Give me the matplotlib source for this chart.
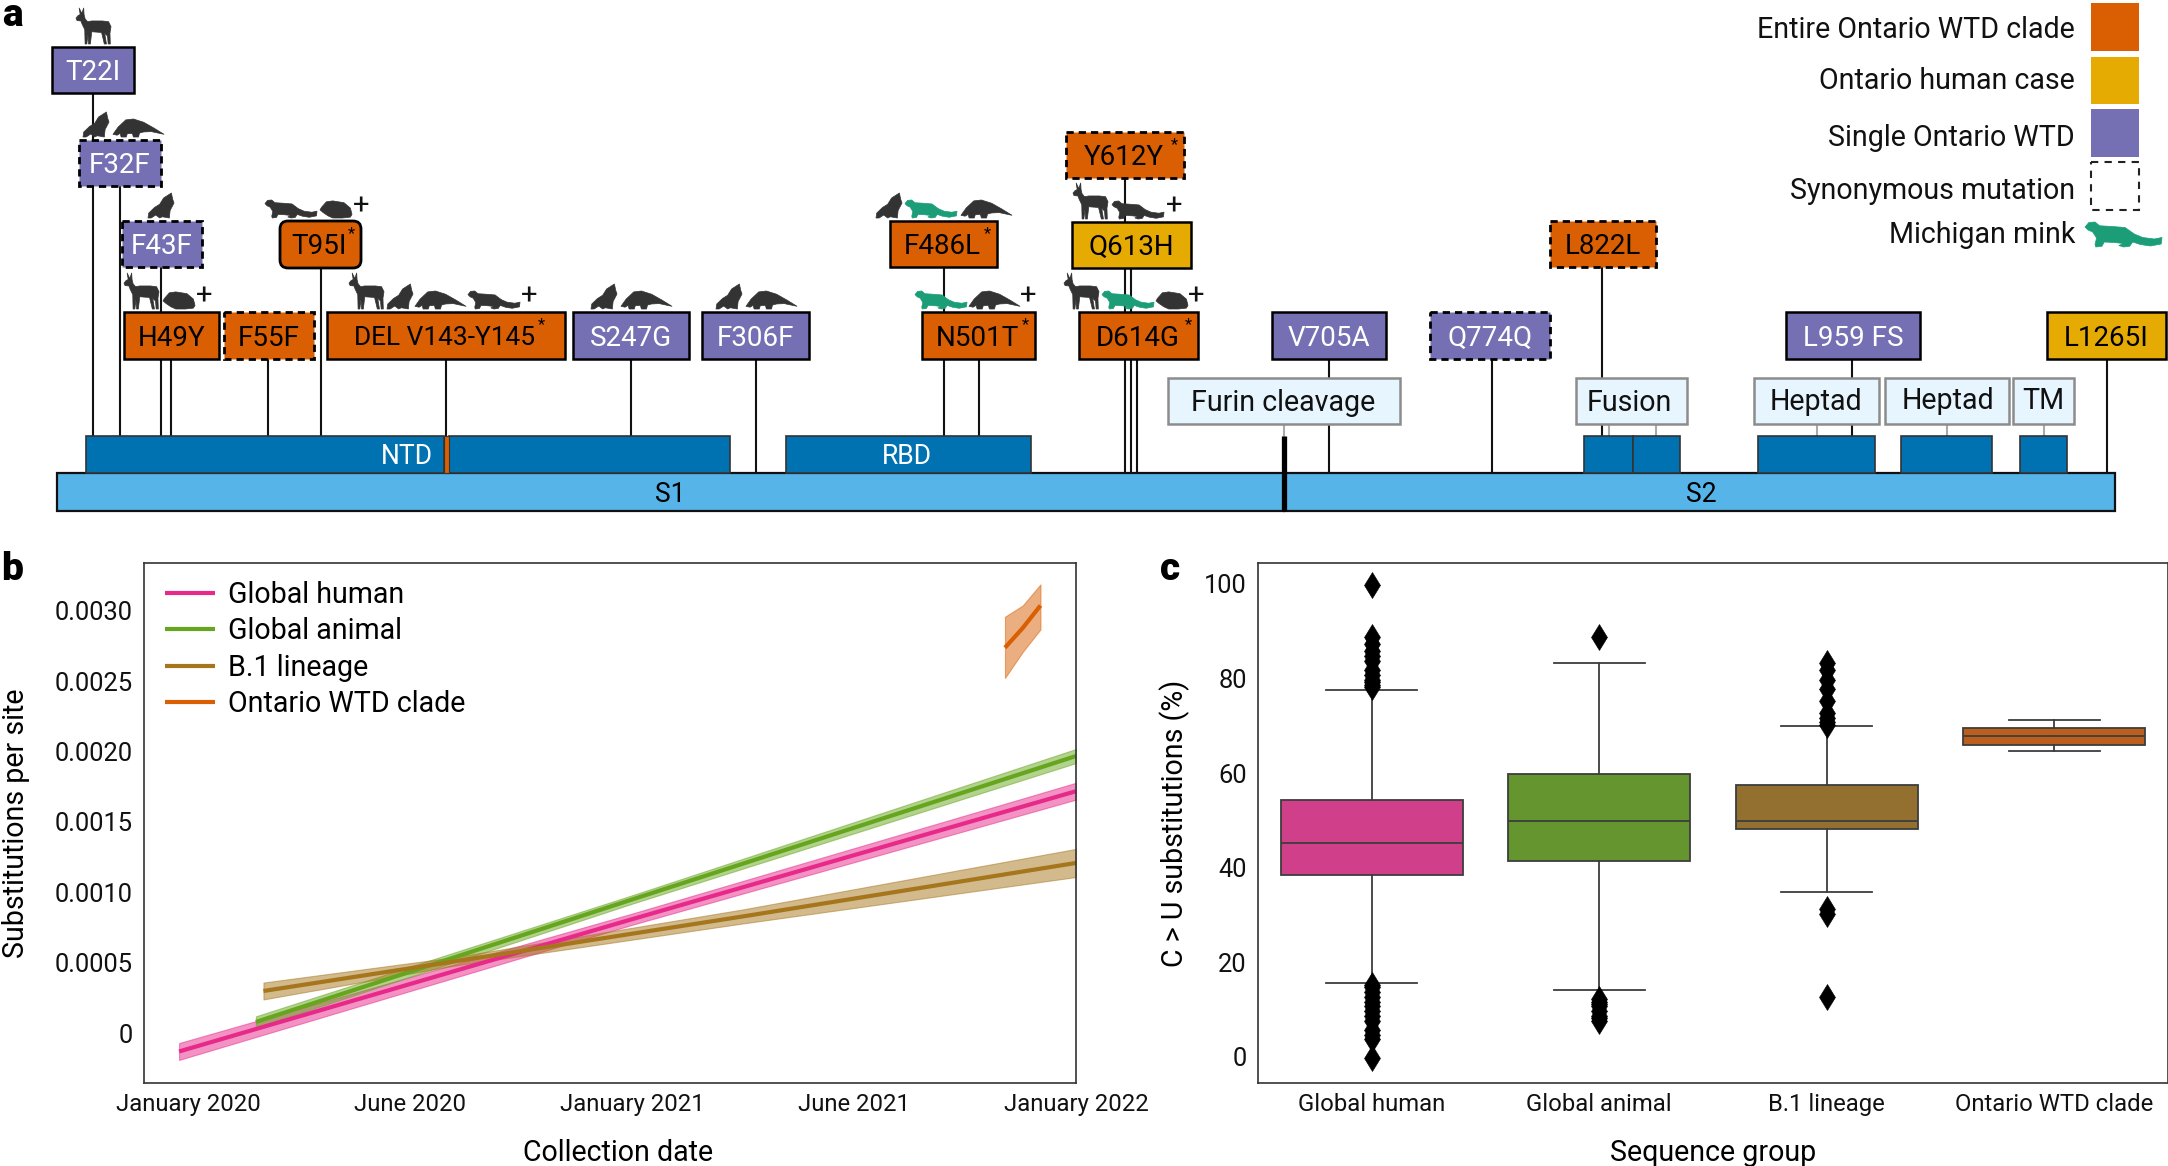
import matplotlib
matplotlib.use('Agg')
import matplotlib.pyplot as plt
from matplotlib.patches import Rectangle, FancyBboxPatch, Polygon
from matplotlib.transforms import ScaledTranslation

plt.rcParams['font.family'] = ['Roboto', 'DejaVu Sans']

W, H = 2168, 1166
ORANGE, YELLOW, PURPLE = '#D95F02', '#E6AB02', '#7570B3'
DARK_BLUE, SKY, PALE = '#0072B2', '#56B4E9', '#E6F5FE'
MINK_GREEN, SIL = '#1B9E77', '#333333'
FS_A, FS_T, FS_L = 20.6, 17.2, 20.6

# ---------- panel a: mutations ----------
MUTATIONS = ['T22I', 'F32F', 'F43F', 'T95I', 'H49Y', 'F55F', 'DEL V143-Y145', 'S247G', 'F306F',
             'F486L', 'N501T', 'Y612Y', 'Q613H', 'D614G', 'V705A', 'Q774Q', 'L822L', 'L959 FS', 'L1265I']
MUT_GROUP = ['single', 'single', 'single', 'clade', 'clade', 'clade', 'clade', 'single', 'single',
             'clade', 'clade', 'clade', 'human', 'clade', 'single', 'single', 'clade', 'single', 'human']
MUT_SYNONYMOUS = ['F32F', 'F43F', 'F55F', 'Y612Y', 'Q774Q', 'L822L']
MUT_STARRED = ['T95I', 'DEL V143-Y145', 'F486L', 'N501T', 'Y612Y', 'D614G']
MUT_ANIMALS = [
    ['deer'], ['cat', 'pangolin'], ['cat'], ['mink', 'hamster', '+'], ['deer', 'hamster', '+'], [],
    ['deer', 'cat', 'pangolin', 'mink', '+'], ['cat', 'pangolin'], ['cat', 'pangolin'],
    ['cat', 'gmink', 'pangolin'], ['gmink', 'pangolin', '+'], [], ['deer', 'mink', '+'],
    ['deer', 'gmink', 'hamster', '+'], [], [], [], [], []]
DOMAINS = ['NTD', 'RBD', 'Furin cleavage', 'Fusion', 'Heptad', 'Heptad', 'TM']
SUBUNITS = ['S1', 'S2']
LEGEND_A = ['Entire Ontario WTD clade', 'Ontario human case', 'Single Ontario WTD', 'Synonymous mutation', 'Michigan mink']

# layout of the schematic, in figure pixels
BOX = {'T22I': (52, 134, 47, 93), 'F32F': (79, 161, 140, 186), 'F43F': (122, 202, 221, 267),
       'T95I': (280, 361, 221, 268), 'H49Y': (124, 219, 312, 359), 'F55F': (224, 314, 312, 359),
       'DEL V143-Y145': (327, 565, 312, 359), 'S247G': (573, 689, 312, 359), 'F306F': (702, 809, 312, 359),
       'F486L': (890, 997, 221, 267), 'N501T': (922, 1035, 312, 359), 'Y612Y': (1066, 1184, 132, 178),
       'Q613H': (1072, 1191, 222, 268), 'D614G': (1079, 1198, 312, 359), 'V705A': (1272, 1386, 312, 359),
       'Q774Q': (1430, 1550, 312, 359), 'L822L': (1550, 1656, 221, 267), 'L959 FS': (1786, 1920, 312, 359),
       'L1265I': (2047, 2166, 312, 359)}
STEMS = [(93, 93, 436), (120, 186, 436), (161, 267, 436), (171, 359, 436), (268, 359, 436), (320.5, 268, 436),
         (446, 359, 436), (631, 359, 436), (756, 359, 473), (944, 267, 436), (978.5, 359, 436),
         (1125, 178, 473), (1131, 268, 473), (1137, 359, 473), (1329, 359, 473), (1492, 359, 473),
         (1601.5, 267, 436), (1852, 359, 436), (2107, 359, 473)]
SILH = {
 'deer': [(0,.72),(.06,.79),(.12,.82),(.09,1),(.15,.88),(.17,.86),(.22,1),(.23,.82),(.26,.7),(.33,.62),(.45,.64),(.75,.64),(.93,.62),(1,.48),(.97,.3),(.98,0),(.92,0),(.9,.22),(.82,.3),(.87,0),(.81,0),(.73,.32),(.45,.34),(.41,0),(.36,0),(.34,.26),(.31,0),(.26,0),(.25,.4),(.18,.54),(.14,.64),(.03,.65)],
 'cat': [(0,0),(.03,.2),(.25,.42),(.45,.55),(.6,.8),(.9,1),(.95,.75),(1,.6),(.85,.3),(.82,0),(.55,.05),(.45,0),(.3,.12),(.12,0)],
 'pangolin': [(0,.15),(.1,.55),(.25,.95),(.4,1),(.6,.82),(.8,.5),(1,.15),(.75,.3),(.6,.28),(.52,.22),(.5,0),(.4,0),(.38,.2),(.28,.18),(.26,0),(.16,0),(.14,.2),(.08,.1)],
 'mink': [(0,.8),(.05,.98),(.13,1),(.19,.85),(.35,.82),(.52,.78),(.64,.52),(.75,.38),(.9,.32),(1,.38),(.99,.12),(.85,.04),(.72,.1),(.62,.2),(.58,.03),(.5,0),(.44,.06),(.5,.14),(.38,.18),(.25,.2),(.22,.03),(.14,0),(.13,.1),(.15,.36),(.1,.6),(.04,.68)],
 'hamster': [(0,.45),(.05,.6),(.2,.9),(.4,.95),(.75,.85),(.95,.55),(1,.2),(.95,.05),(.7,0),(.4,0),(.25,.12),(.1,.3)],
}
SIL_SIZE = {'deer': (35, 36), 'cat': (26, 25), 'pangolin': (51, 18), 'mink': (52, 18), 'gmink': (52, 18), 'hamster': (32, 18), '+': (12, 12)}
SIL_X = [[76], [83, 113], [148], [265, 320, 361], [124, 163, 204], [], [349, 387, 415, 468, 529], [591, 621], [716, 746],
         [876, 905, 961], [915, 969, 1028], [], [1073, 1112, 1174], [1064, 1102, 1156, 1196], [], [], [], [], []]

# ---------- panel b: root-to-tip regressions ----------
B_TICKPOS = [0, 1, 2, 3, 4]
B_XLABELS = ['January 2020', 'June 2020', 'January 2021', 'June 2021', 'January 2022']
B_YTICKS = [0, 0.0005, 0.001, 0.0015, 0.002, 0.0025, 0.003]
B_YLABELS = ['0', '0.0005', '0.0010', '0.0015', '0.0020', '0.0025', '0.0030']
B_NAMES = ['Global human', 'Global animal', 'B.1 lineage', 'Ontario WTD clade']
B_COLORS = ['#E7298A', '#66A61E', '#A6761D', '#D95F02']
human_x, human_y = [-0.04, 2.0, 4.0], [-0.00011, 0.00083, 0.00174]
human_lo, human_hi = [-0.00017, 0.00079, 0.00168], [-0.00005, 0.00087, 0.0018]
animal_x, animal_y = [0.306, 2.0, 4.0], [0.0001, 0.00097, 0.00199]
animal_lo, animal_hi = [0.00006, 0.00094, 0.00194], [0.00014, 0.001, 0.00204]
b1_x, b1_y = [0.34, 1.2, 2.5, 4.0], [0.00032, 0.00053, 0.00085, 0.00123]
b1_lo, b1_hi = [0.00026, 0.0005, 0.0008, 0.00113], [0.00038, 0.00056, 0.0009, 0.00133]
wtd_x, wtd_y = [3.68, 3.76, 3.84], [0.00276, 0.0029, 0.00306]
wtd_lo, wtd_hi = [0.002545, 0.00273, 0.00289], [0.00298, 0.00306, 0.00321]

# ---------- panel c: C>U boxplots ----------
C_NAMES = ['Global human', 'Global animal', 'B.1 lineage', 'Ontario WTD clade']
C_COLORS = ['#CF3F8A', '#65952F', '#937030', '#BC5F1C']
C_Q1 = [38.7, 41.8, 48.5, 66.3]
C_MED = [45.6, 50.1, 50.1, 68.2]
C_Q3 = [54.7, 60.1, 57.7, 69.8]
C_LO = [15.9, 14.5, 35.1, 64.9]
C_HI = [77.9, 83.5, 70.2, 71.5]
C_FLIERS = [
    [100, 89, 87.5, 86, 85, 84, 82, 81, 80, 79.5, 79, 78.5, 0, 4, 5, 6, 8, 9, 10, 11, 12, 13, 14, 15, 15.5],
    [89, 12.5, 12, 11.5, 11, 10, 9, 8.5, 8],
    [83.5, 82, 80, 78, 75.5, 73, 72, 71, 70.5, 31.5, 30.5, 13],
    []]
C_YTICKS = [0, 20, 40, 60, 80, 100]

fig = plt.figure(figsize=(W / 100, H / 100), dpi=100, facecolor='white')

# ---------- draw a ----------
a = fig.add_axes([0, 0, 1, 1], zorder=0)
a.set_xlim(0, W); a.set_ylim(H, 0); a.axis('off')
FILL = {'single': PURPLE, 'clade': ORANGE, 'human': YELLOW}


def rect(x0, x1, y0, y1, fc, ec='black', lw=1.6, ls='-', z=3):
    a.add_patch(Rectangle((x0, y0), x1 - x0, y1 - y0, fc=fc, ec=ec, lw=lw, ls=ls, zorder=z))


for x, y0, y1 in STEMS:
    a.plot([x, x], [y0, y1], color='#111111', lw=1.5, zorder=1, solid_capstyle='butt')
for x, y0, y1 in [(1608.5, 424, 436), (1656, 424, 436), (1816.5, 424, 436), (1947, 424, 436), (2043.5, 424, 436), (1284, 424, 436)]:
    a.plot([x, x], [y0, y1], color='#AAAAAA', lw=1.5, zorder=1)

rect(57, 1284, 473, 511, SKY, ec='#111111', z=2)
rect(1284, 2115, 473, 511, SKY, ec='#111111', z=2)
a.text(670, 494, SUBUNITS[0], ha='center', va='center', fontsize=FS_A - 1.5, color='black', zorder=5)
a.text(1701, 494, SUBUNITS[1], ha='center', va='center', fontsize=FS_A - 1.5, color='black', zorder=5)
for x0, x1 in [(86, 444), (449, 730), (786, 1031), (1584, 1633), (1633, 1680), (1758, 1875), (1901, 1992), (2020, 2067)]:
    rect(x0, x1, 436, 473, DARK_BLUE, ec='#333333', lw=1.2, z=2)
rect(444, 449, 436, 473, ORANGE, ec='#333333', lw=0.8, z=2)
a.text(407, 456, DOMAINS[0], ha='center', va='center', fontsize=FS_A - 1.5, color='white', zorder=5)
a.text(907, 456, DOMAINS[1], ha='center', va='center', fontsize=FS_A - 1.5, color='white', zorder=5)
a.plot([1284, 1284], [436, 511], color='black', lw=3.8, zorder=4, solid_capstyle='butt')

for name, (x0, x1), cx, cy in zip(DOMAINS[2:], [(1168, 1400), (1576, 1687), (1754, 1879), (1885, 2009), (2013, 2074)],
                                  [1283, 1629, 1816, 1948, 2043], [403, 403, 402, 401, 401]):
    rect(x0, x1, 378, 424, PALE, ec='#8C8C8C', lw=1.8, z=3)
    a.text(cx, cy, name, ha='center', va='center', fontsize=FS_A, color='#111111', zorder=5)

for name, group, animals, xs in zip(MUTATIONS, MUT_GROUP, MUT_ANIMALS, SIL_X):
    x0, x1, y0, y1 = BOX[name]
    fc = FILL[group]
    syn = name in MUT_SYNONYMOUS
    if name == 'T95I':
        a.add_patch(FancyBboxPatch((x0 + 6, y0 + 6), x1 - x0 - 12, y1 - y0 - 12, boxstyle='round,pad=6,rounding_size=8',
                                   fc=fc, ec='black', lw=2.0, zorder=3))
    else:
        rect(x0, x1, y0, y1, fc, lw=2.0 if syn else 1.8, ls=(0, (2.6, 1.8)) if syn else '-')
    star = name in MUT_STARRED
    tc = 'white' if group == 'single' else 'black'
    fs = 18.9 if name == 'DEL V143-Y145' else 20.0
    a.text((x0 + x1) / 2 + (-1 if star else 0), (y0 + y1) / 2 + 2.5, name, ha='center', va='center',
           fontsize=fs, color=tc, zorder=5)
    if star:
        a.text(x1 - 10 if name != 'DEL V143-Y145' else x1 - 24, y0 + 5, '*', ha='center', va='top', fontsize=12, color='black', zorder=5)
    for kind, x in zip(animals, xs):
        base = y0 - 3
        if kind == '+':
            a.text(x, base - 12, '+', ha='center', va='center', fontsize=21, color='#111111', zorder=5)
            continue
        w, h = SIL_SIZE[kind]
        key = 'mink' if kind == 'gmink' else kind
        col = MINK_GREEN if kind == 'gmink' else SIL
        pts = [(x + u * w, base - v * h) for u, v in SILH[key]]
        a.add_patch(Polygon(pts, closed=True, fc=col, ec=col, lw=0.5, joinstyle='round', zorder=4))

for label, (y0, y1), col, ls in zip(LEGEND_A[:4], [(3, 51), (57, 104), (109, 157), (162, 210)],
                                    [ORANGE, YELLOW, PURPLE, 'none'], ['-', '-', '-', '--']):
    if ls == '-':
        rect(2091, 2139, y0, y1, col, ec='none', lw=0)
    else:
        rect(2091, 2139, y0, y1, 'none', ec='#222222', lw=1.5, ls=(0, (3.5, 3)))
for label, y in zip(LEGEND_A, [30, 81, 138, 191, 235]):
    a.text(2075, y, label, ha='right', va='center', fontsize=FS_A, color='#111111')
a.add_patch(Polygon([(2085 + u * 77, 247 - v * 25) for u, v in SILH['mink']], closed=True, fc=MINK_GREEN, ec=MINK_GREEN, lw=0.5))

for t, x, y in [('a', 12, 16), ('b', 12, 569), ('c', 1170, 570)]:
    a.text(x, y, t, ha='center', va='center', fontsize=28, fontweight='black', color='black')


def panel(x0, x1, y0, y1):
    ax = fig.add_axes([x0 / W, 1 - y1 / H, (x1 - x0) / W, (y1 - y0) / H], zorder=1)
    for s in ax.spines.values():
        s.set_color('#333333'); s.set_linewidth(1.2)
    ax.tick_params(length=0, labelsize=FS_T, pad=8, colors='#111111')
    ax.tick_params(axis='y', labelsize=18.4)
    return ax


def lift_ticklabels(ax, px):
    off = ScaledTranslation(0, px / 100, fig.dpi_scale_trans)
    for lab in ax.get_yticklabels():
        lab.set_transform(lab.get_transform() + off)


# ---------- draw b ----------
b = panel(144, 1076, 563, 1083)
for (xs, ys, lo, hi), name, col in zip([(human_x, human_y, human_lo, human_hi), (animal_x, animal_y, animal_lo, animal_hi),
                                        (b1_x, b1_y, b1_lo, b1_hi), (wtd_x, wtd_y, wtd_lo, wtd_hi)], B_NAMES, B_COLORS):
    b.fill_between(xs, lo, hi, color=col, alpha=0.5, lw=0.8)
    b.plot(xs, ys, color=col, lw=3, label=name, solid_capstyle='butt')
b.set_xlim(-0.198, 4); b.set_ylim(-0.000334, 0.003362)
b.set_xticks(B_TICKPOS, B_XLABELS); b.set_yticks(B_YTICKS, B_YLABELS)
b.tick_params(axis='x', pad=7.5)
lift_ticklabels(b, 3)
b.set_xlabel('Collection date', fontsize=FS_L, va='center')
b.set_ylabel('Substitutions per site', fontsize=FS_L, va='center')
b.yaxis.set_label_coords(-0.137, 0.5)
b.xaxis.set_label_coords(0.5086, -0.134)
b.legend(loc='upper left', bbox_to_anchor=(0.0225, 0.966), frameon=False, fontsize=FS_A, borderpad=0, borderaxespad=0,
         handlelength=1.74, handletextpad=0.48, labelspacing=0.3)

# ---------- draw c ----------
c = panel(1258, 2168, 563, 1083)
stats = [dict(q1=q1, med=m, q3=q3, whislo=lo, whishi=hi, fliers=f)
         for q1, m, q3, lo, hi, f in zip(C_Q1, C_MED, C_Q3, C_LO, C_HI, C_FLIERS)]
art = c.bxp(stats, positions=range(4), widths=0.8, patch_artist=True, capwidths=0.4,
            boxprops=dict(edgecolor='#3D3D3D', linewidth=1.3),
            medianprops=dict(color='#3D3D3D', linewidth=1.3),
            whiskerprops=dict(color='#3D3D3D', linewidth=1.3),
            capprops=dict(color='#3D3D3D', linewidth=1.3),
            flierprops=dict(marker='d', markersize=13.5, markerfacecolor='black', markeredgecolor='black', markeredgewidth=0.4))
for patch, col in zip(art['boxes'], C_COLORS):
    patch.set_facecolor(col)
c.set_xlim(-0.5, 3.5); c.set_ylim(-5.2, 104.7)
c.set_xticks(range(4), C_NAMES); c.set_yticks(C_YTICKS, [str(v) for v in C_YTICKS])
c.tick_params(axis='x', pad=7.5)
lift_ticklabels(c, 1.5)
c.set_xlabel('Sequence group', fontsize=FS_L, va='center')
c.set_ylabel('C > U substitutions (%)', fontsize=FS_L, va='center')
c.yaxis.set_label_coords(-0.0912, 0.5)
c.xaxis.set_label_coords(0.5, -0.134)

fig.savefig('out.png', dpi=100, facecolor='white')
